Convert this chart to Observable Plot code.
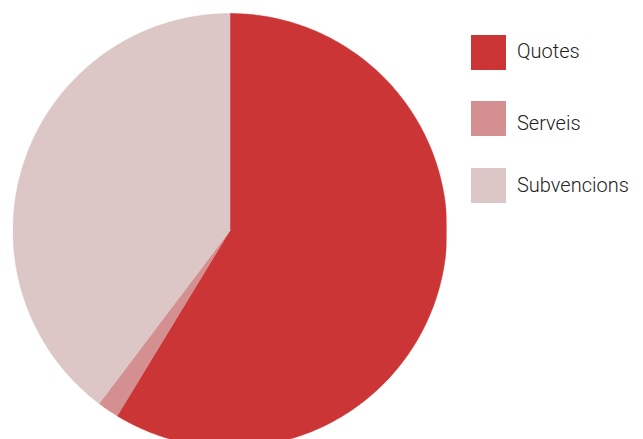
<!DOCTYPE html>
<html>
<head>
<meta charset="utf-8">
<script src="https://cdn.jsdelivr.net/npm/d3@7"></script>
<script src="https://cdn.jsdelivr.net/npm/@observablehq/plot@0.6"></script>
<style>
  body { margin: 0; background: #fff; }
  #wrap { position: relative; width: 643px; height: 439px; overflow: hidden; }
  #legend { position: absolute; left: 0; top: 0; }
</style>
</head>
<body>
<div id="wrap"></div>
<script>
const categories = ["Quotes", "Serveis", "Subvencions"];
const values = [58.7, 1.6, 39.7];
const colors = ["#cc3536", "#d48f90", "#dcc6c6"];

const pie = d3.pie().sort(null).value(d => d.value)(categories.map((c, i) => ({key: c, value: values[i]})));
const pts = [];
for (const a of pie) {
  const n = Math.max(4, Math.ceil((a.endAngle - a.startAngle) * 80));
  pts.push({key: a.data.key, x: 0, y: 0});
  for (let k = 0; k <= n; k++) {
    const t = a.startAngle + (a.endAngle - a.startAngle) * k / n;
    pts.push({key: a.data.key, x: Math.sin(t), y: Math.cos(t)});
  }
  pts.push({key: a.data.key, x: 0, y: 0});
}

const chart = Plot.plot({
  width: 643,
  height: 439,
  marginLeft: 12.5,
  marginRight: 196.5,
  marginTop: 13,
  marginBottom: 0,
  x: {domain: [-1, 1], axis: null},
  y: {domain: [1 - 426 / 217, 1], axis: null},
  color: {domain: categories, range: colors},
  marks: [
    Plot.line(pts, {x: "x", y: "y", z: "key", fill: "key", stroke: "key", strokeWidth: 0.5, curve: "linear", clip: true})
  ]
});
const wrap = document.getElementById("wrap");
wrap.appendChild(chart);

const swTop = [35, 101, 168];
const baselines = [58.3, 129.7, 192.3];
const leg = d3.select(wrap).append("svg").attr("id", "legend").attr("width", 643).attr("height", 439);
categories.forEach((c, i) => {
  leg.append("rect").attr("x", 471).attr("y", swTop[i]).attr("width", 35).attr("height", 35).attr("fill", colors[i]);
  leg.append("text").attr("x", 517).attr("y", baselines[i])
    .attr("font-family", "Roboto, sans-serif").attr("font-size", 20).attr("font-weight", 300).attr("fill", "#222")
    .text(c);
});
</script>
</body>
</html>
